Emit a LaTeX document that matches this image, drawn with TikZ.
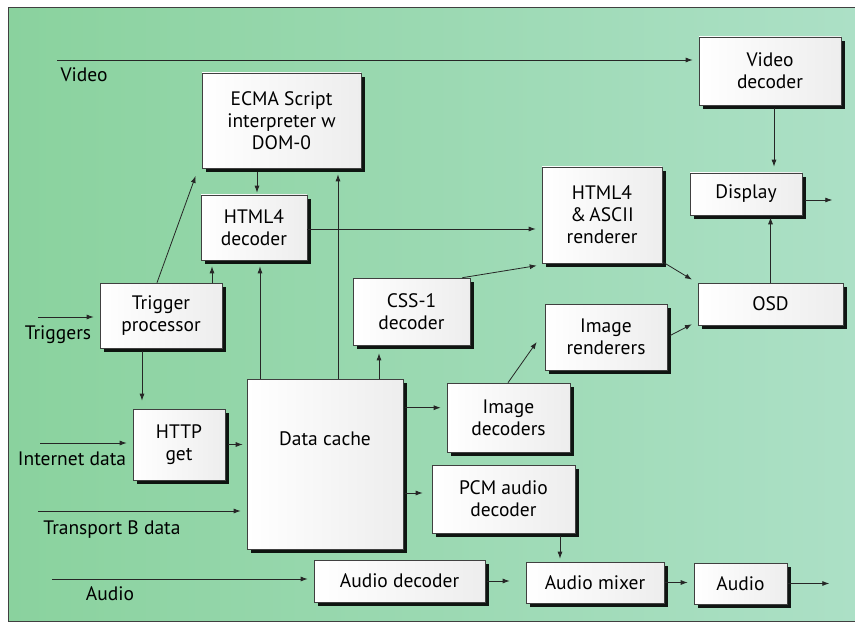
\documentclass[tikz,border=0pt]{standalone}
\usepackage{fontspec}
\setmainfont{PT Sans}
\usetikzlibrary{arrows.meta,shadows,calc}
\definecolor{bgleft}{RGB}{138,210,158}
\definecolor{bgmid}{RGB}{226,242,230}
\definecolor{bgright}{RGB}{172,224,198}

\begin{document}
\begin{tikzpicture}[x=1pt,y=-1pt,
  font=\fontsize{19.5}{22}\selectfont,
  box/.style={draw=black!75, line width=0.6pt, left color=white, right color=black!7,
    inner sep=0pt, align=center,
    drop shadow={shadow xshift=3.5pt, shadow yshift=-4pt, fill=black, opacity=0.9}},
  arr/.style={line width=0.8pt, draw=black!85, -{Latex[length=7pt,width=5pt]}, shorten >=6pt},
  lbl/.style={inner sep=0pt}
]
% page and framed panel
\useasboundingbox (0,0) rectangle (855,623);
\fill[white] (0,0) rectangle (855,623);
\shade[left color=bgleft, middle color=bgmid, right color=bgright] (8,8) rectangle (855,621);
\draw[black!75, line width=1pt] (855,8) -- (8,8) -- (8,621) -- (855,621);

% blocks
\node[box, minimum width=142pt, minimum height=68pt] (vdec)  at (770,71)    {Video\\decoder};
\node[box, minimum width=159pt, minimum height=95pt] (ecma)  at (281.5,120.5) {ECMA Script\\interpreter w\\DOM-0};
\node[box, minimum width=106pt, minimum height=65pt] (hdec)  at (254,227.5) {HTML4\\decoder};
\node[box, minimum width=120pt, minimum height=96pt] (rend)  at (602,215)   {HTML4\\\&\,ASCII\\renderer};
\node[box, minimum width=112pt, minimum height=42pt] (disp)  at (746,194)   {Display};
\node[box, minimum width=145pt, minimum height=42pt] (osd)   at (770.5,304) {OSD};
\node[box, minimum width=122pt, minimum height=65pt] (trig)  at (161,315.5) {Trigger\\processor};
\node[box, minimum width=117pt, minimum height=67pt] (css)   at (411.5,311.5) {CSS-1\\decoder};
\node[box, minimum width=122pt, minimum height=66pt] (irend) at (606,337)   {Image\\renderers};
\node[box, minimum width=123pt, minimum height=69pt] (idec)  at (508.5,417.5) {Image\\decoders};
\node[box, minimum width=143pt, minimum height=68pt] (pcm)   at (503.5,499) {PCM audio\\decoder};
\node[box, minimum width=92pt,  minimum height=71pt] (http)  at (179,444.5) {HTTP\\get};
\node[box, minimum width=156pt, minimum height=170pt,
      label={[lbl, anchor=center, yshift=-60pt]north:Data cache}] (cache) at (325,464) {};
\node[box, minimum width=171pt, minimum height=42pt] (adec)  at (399.5,581) {Audio decoder};
\node[box, minimum width=138pt, minimum height=41pt] (amix)  at (595,582.5) {Audio mixer};
\node[box, minimum width=93pt,  minimum height=41pt] (aout)  at (740.5,583.5) {Audio};

% external inputs
\coordinate (vin) at (57,60);
\coordinate (tin) at (38,317);
\coordinate (iin) at (40,443);
\coordinate (bin) at (38,511);
\coordinate (ain) at (52,579);
\node[lbl] (lvideo) at (84,75)   {Video};
\node[lbl] (ltrig)  at (58,335)  {Triggers};
\node[lbl] (linet)  at (72,459)  {Internet data};
\node[lbl] (ltrans) at (112,530) {Transport B data};
\node[lbl] (laudio) at (110,594) {Audio};

\draw[arr] (vin) -- (vin -| vdec.west);
\draw[arr] (tin) -- (tin -| trig.west);
\draw[arr] (iin) -- (iin -| http.west);
\draw[arr] (bin) -- (bin -| cache.west);
\draw[arr] (ain) -- (ain -| adec.west);

% connections
\draw[arr] ([xshift=-4pt]trig.north) -- ([xshift=-4pt,yshift=-2pt]ecma.south west);
\draw[arr, shorten >=2pt] ([xshift=-24.5pt,yshift=-4pt]ecma.south) -- ([xshift=3pt]hdec.north);
\draw[arr] ([xshift=51pt]trig.north) -- ([xshift=-42pt]hdec.south);
\draw[arr] ([xshift=-65pt]cache.north) -- ([xshift=6pt]hdec.south);
\draw[arr] ([xshift=13pt]cache.north) -- ([xshift=56.5pt]ecma.south);
\draw[arr] ([yshift=-1.5pt]hdec.east) -- ([yshift=-1.5pt]hdec.east -| rend.west);
\draw[arr, shorten >=2pt] ([xshift=-8pt]css.north east) -- ([xshift=-3pt,yshift=-2pt]rend.south west);
\draw[arr, shorten >=2pt] ([xshift=1pt,yshift=1pt]rend.south east) -- ([xshift=-4pt,yshift=2pt]osd.north west);
\draw[arr, shorten >=2pt] (osd.north) -- (osd.north |- disp.south);
\draw[arr, shorten <=3pt] ([xshift=4pt]vdec.south) -- ([xshift=4pt]vdec.south |- disp.north);
\draw[arr, shorten <=3pt, shorten >=0pt] ([yshift=-6pt]disp.east) -- ++(30,0);
\draw[arr, shorten <=3pt, shorten >=2pt] (irend.east) -- ([xshift=-4pt,yshift=2pt]osd.south west);
\draw[arr, shorten >=0pt] ([xshift=-0.5pt]idec.north) -- ([xshift=-8pt,yshift=-5pt]irend.west);
\draw[arr, shorten <=2pt] ([yshift=-29pt]cache.north east) -- ([yshift=-29pt]cache.north east -| idec.west);
\draw[arr, shorten >=8pt] ([xshift=54pt]cache.north) -- ([xshift=54pt]cache.north |- css.south);
\draw[arr, shorten <=2pt, shorten >=9pt] ([yshift=-29pt]cache.east) -- ([yshift=-29pt]cache.east -| pcm.west);
\draw[arr, shorten <=3pt, shorten >=8pt] ([xshift=-19pt]trig.south) -- ([xshift=-19pt]trig.south |- http.north);
\draw[arr, shorten <=3pt, shorten >=4pt] (http.east) -- (http.east -| cache.west);
\draw[arr, shorten <=2pt, shorten >=16pt] (adec.east) -- (adec.east -| amix.west);
\draw[arr, shorten <=3pt, shorten >=3pt] ([xshift=56.5pt]pcm.south) -- ([xshift=56.5pt]pcm.south |- amix.north);
\draw[arr, shorten <=1pt, shorten >=6pt] (amix.east) -- (amix.east -| aout.west);
\draw[arr, shorten <=1pt, shorten >=0pt] (aout.east) -- ++(42,0);
\end{tikzpicture}
\end{document}
